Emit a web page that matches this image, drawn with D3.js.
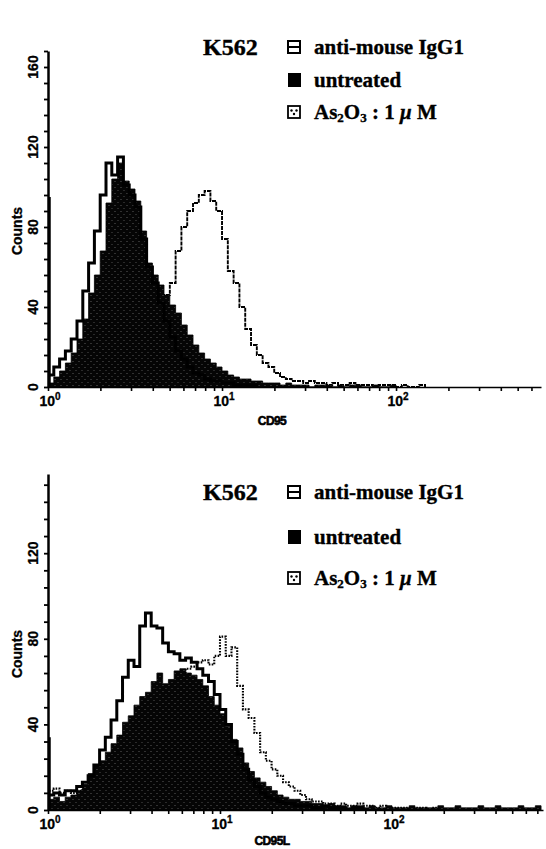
<!DOCTYPE html>
<html>
<head>
<meta charset="utf-8">
<script src="https://cdn.jsdelivr.net/npm/d3@7/dist/d3.min.js"></script>
<style>
body { margin: 0; background: #fff; }
svg { display: block; }
.legend text { font-family: "Liberation Serif", "Times New Roman", serif; font-weight: bold; white-space: pre; }
.tick-label, .axis-title { font-family: "Liberation Sans", Arial, sans-serif; font-weight: bold; }
</style>
</head>
<body>
<svg id="chart" width="546" height="849"></svg>
<script>
// histogram bins are 1/30 decade wide, first bin starts at 10^0
const binsPerDecade = 30

const seriesNames = ["anti-mouse IgG1", "untreated", "As2O3"]
const xTickDecades = [0, 1, 2]
const yTicksTop = [0, 40, 80, 120, 160]
const yTicksBottom = [0, 40, 80, 120]

// CD95 panel
const cd95IgG1 = [6,10,14,18,24,33,48,62,78,96,112,106,115,101,96,90,74,60,52,42,33,25,18,14,10,7,6,4,3,3,2,2,1,1,1,1]
const cd95Untreated = [2,5,8,12,17,24,34,47,56,68,92,104,112,103,99,93,78,62,56,51,46,41,37,31,26,21,17,14,12,10,8,6,5,4,4,3,3,2,2,2,1,2,1,1,1,0,1,1,1,0,1,0,1,1,0,0,1,0,0,1]
const cd95As2O3 = [0,0,0,0,0,1,1,1,2,2,3,4,5,7,9,13,18,25,32,42,46,52,68,80,88,92,96,98,93,88,74,58,52,40,29,21,16,12,10,7,5,4,3,3,2,3,2,2,1,2,1,1,2,1,1,1,0,1,1,1,0,1,0,0,1]
const cd95FirstChannel = [95]

// CD95L panel
const cd95lIgG1 = [7,8,7,9,9,11,13,16,21,28,34,42,51,62,70,67,86,92,86,85,78,74,73,70,71,69,66,63,60,54,47,40,32,26,19,14,11,8,6,5,4,3,3,2,2,2,1,1,2,1,1,1,0,1,1]
const cd95lUntreated = [5,6,4,6,7,9,12,17,21,23,27,31,35,41,44,49,53,55,60,64,59,61,65,66,64,63,61,58,53,49,45,39,33,29,22,18,15,13,11,9,7,6,5,5,4,4,3,3,
  2,3,2,2,1,2,2,1,2,1,1,2,1,1,1,2,1,1,1,1,2,1,1,2,1,1,1,2,1,1,2,1,1,1,2,1,1,2]
const cd95lAs2O3 = [9,10,8,9,8,9,11,12,14,16,19,23,27,30,34,38,42,45,49,52,55,58,61,64,66,67,69,70,68,72,81,72,76,58,47,43,36,27,23,19,16,13,11,9,7,5,4,4,3,3,2,3,2,2,3,2,2,1,2,1,1,1,1,0,1,1,0,1]
const cd95lFirstChannel = [34]

const svg = d3.select("#chart")

// stipple texture of the scanned filled histogram
const defs = svg.append("defs")
const pat = defs.append("pattern").attr("id", "stipple")
  .attr("width", 6).attr("height", 6).attr("patternUnits", "userSpaceOnUse")
pat.append("rect").attr("width", 6).attr("height", 6).attr("fill", "#050505")
pat.append("circle").attr("cx", 1).attr("cy", 1.5).attr("r", 0.55).attr("fill", "#6a6a6a")
pat.append("circle").attr("cx", 4).attr("cy", 4.5).attr("r", 0.55).attr("fill", "#5a5a5a")

const panels = [
  { name: "CD95", top: 51, bottom: 387, left: 48, right: 541, xMaxExp: 2.833, yMax: 168,
    yTicks: yTicksTop, igg: cd95IgG1, untreated: cd95Untreated, as2o3: cd95As2O3, first: cd95FirstChannel,
    legendRows: [47, 80, 112], titleY: 425, dash: "4,1", dashW: 1.9 },
  { name: "CD95L", top: 474, bottom: 810, left: 48, right: 543, xMaxExp: 2.878, yMax: 157,
    yTicks: yTicksBottom, igg: cd95lIgG1, untreated: cd95lUntreated, as2o3: cd95lAs2O3, first: cd95lFirstChannel,
    legendRows: [492, 537, 578], titleY: 845, dash: "1.6,1.3", dashW: 2.1 }
]

// turns bin counts into a step outline
const stepPoints = (counts, x, y) => {
  const pts = [[x(1), y(0)]]
  counts.forEach((c, i) => {
    const x0 = x(Math.pow(10, i / binsPerDecade))
    const x1 = x(Math.pow(10, (i + 1) / binsPerDecade))
    pts.push([x0, y(c)], [x1, y(c)])
  })
  pts.push([x(Math.pow(10, counts.length / binsPerDecade)), y(0)])
  return pts
}

panels.forEach((p, pi) => {
  const x = d3.scaleLog().domain([1, Math.pow(10, p.xMaxExp)]).range([p.left, p.right])
  const y = d3.scaleLinear().domain([0, p.yMax]).range([p.bottom, p.top])
  const g = svg.append("g")

  defs.append("clipPath").attr("id", "clip" + pi)
    .append("rect").attr("x", p.left).attr("y", p.top - 2)
    .attr("width", p.right - p.left).attr("height", p.bottom - p.top + 2)

  const plot = g.append("g").attr("clip-path", `url(#clip${pi})`)
  const line = d3.line()

  // As2O3 : white area, dotted outline
  plot.append("path").attr("d", line(stepPoints(p.as2o3, x, y)) + "Z")
    .attr("fill", "#fff").attr("stroke", "none")
  plot.append("path").attr("d", line(stepPoints(p.as2o3, x, y)))
    .attr("fill", "none").attr("stroke", "#000").attr("stroke-width", p.dashW)
    .attr("stroke-dasharray", p.dash)

  // untreated : filled black
  plot.append("path").attr("d", line(stepPoints(p.untreated, x, y)) + "Z")
    .attr("fill", "url(#stipple)").attr("stroke", "#000").attr("stroke-width", 0.8)

  // isotype control : thick outline
  plot.append("path").attr("d", line(stepPoints(p.igg, x, y)))
    .attr("fill", "none").attr("stroke", "#000").attr("stroke-width", 3)
    .attr("stroke-linejoin", "miter")

  // pile-up in the first channel
  plot.selectAll(".first").data(p.first).enter().append("line")
    .attr("x1", x(1) + 1.5).attr("x2", x(1) + 1.5)
    .attr("y1", y(0)).attr("y2", d => y(d))
    .attr("stroke", "#000").attr("stroke-width", 2.5)

  // y axis
  const yAxis = d3.axisLeft(y)
    .tickValues(d3.range(0, p.yMax + 0.1, 8))
    .tickSize(4).tickSizeOuter(0).tickFormat("")
  const ya = g.append("g").attr("transform", `translate(${p.left},0)`).call(yAxis)
  ya.select(".domain").attr("stroke-width", 2.5)
  ya.selectAll(".tick line").attr("stroke-width", 1.8)

  g.selectAll(".ylab").data(p.yTicks).enter().append("text")
    .attr("class", "tick-label")
    .attr("transform", d => `translate(38,${y(d)}) rotate(-90)`)
    .attr("text-anchor", "middle")
    .attr("font-size", 14)
    .attr("stroke", "#000").attr("stroke-width", 0.3)
    .text(d => d)

  g.append("text").attr("class", "axis-title")
    .attr("transform", `translate(22,${(p.top + p.bottom) / 2 + 12}) rotate(-90)`)
    .attr("text-anchor", "middle").attr("font-size", 14)
    .attr("stroke", "#000").attr("stroke-width", 0.3)
    .text("Counts")

  // x axis with log minor ticks
  const minor = []
  for (let e = 0; e <= 2; e++) for (let m = 1; m < 10; m++) {
    const v = m * Math.pow(10, e)
    if (v <= x.domain()[1]) minor.push(v)
  }
  const xAxis = d3.axisBottom(x).tickValues(minor).tickSize(4).tickSizeOuter(0).tickFormat("")
  const xa = g.append("g").attr("transform", `translate(0,${p.bottom})`).call(xAxis)
  xa.select(".domain").attr("stroke-width", 1.6)
  xa.selectAll(".tick line").attr("stroke-width", 1.6)

  const xl = g.selectAll(".xlab").data(xTickDecades).enter().append("text")
    .attr("class", "tick-label")
    .attr("x", d => x(Math.pow(10, d)) + 2)
    .attr("y", p.bottom + 19)
    .attr("text-anchor", "middle")
    .attr("font-size", 14)
    .attr("stroke", "#000").attr("stroke-width", 0.3)
  xl.append("tspan").text("10")
  xl.append("tspan").attr("font-size", 10).attr("dy", -6).text(d => d)

  g.append("text").attr("class", "axis-title")
    .attr("x", 272).attr("y", p.titleY)
    .attr("text-anchor", "middle").attr("font-size", 12)
    .attr("stroke", "#000").attr("stroke-width", 0.6)
    .attr("letter-spacing", -0.6)
    .text(p.name)

  // legend
  const lg = g.append("g").attr("class", "legend")
  const r = p.legendRows
  lg.append("text").attr("x", 203).attr("y", r[0] + 8).attr("font-size", 24)
    .attr("stroke", "#000").attr("stroke-width", 0.4).text("K562")

  const bx = 288, bs = 12
  // anti-mouse IgG1 icon
  lg.append("rect").attr("x", bx).attr("y", r[0] - bs / 2).attr("width", bs).attr("height", bs)
    .attr("fill", "#fff").attr("stroke", "#000").attr("stroke-width", 2)
  lg.append("line").attr("x1", bx).attr("x2", bx + bs).attr("y1", r[0]).attr("y2", r[0])
    .attr("stroke", "#000").attr("stroke-width", 2)
  // untreated icon
  lg.append("rect").attr("x", bx).attr("y", r[1] - bs / 2 - 1).attr("width", bs + 1).attr("height", bs + 2)
    .attr("fill", "#000")
  // As2O3 icon
  lg.append("rect").attr("x", bx).attr("y", r[2] - bs / 2).attr("width", bs).attr("height", bs)
    .attr("fill", "#fff").attr("stroke", "#000").attr("stroke-width", 1.8)
  ;[[bx + 3.5, r[2] - 1.5], [bx + 8.5, r[2] - 1.5], [bx + 6, r[2] + 2]].forEach(([cx, cy]) =>
    lg.append("circle").attr("cx", cx).attr("cy", cy).attr("r", 1.2).attr("fill", "#000"))

  const tx = 314
  const rowText = (row) => lg.append("text").attr("x", tx).attr("y", row + 7).attr("font-size", 21)
    .attr("stroke", "#000").attr("stroke-width", 0.35)
  rowText(r[0]).text(seriesNames[0])
  rowText(r[1]).text(seriesNames[1])
  const t3 = rowText(r[2])
  t3.append("tspan").text("As")
  t3.append("tspan").attr("font-size", 13).attr("dy", 3).text("2")
  t3.append("tspan").attr("dy", -3).text("O")
  t3.append("tspan").attr("font-size", 13).attr("dy", 3).text("3")
  t3.append("tspan").attr("dy", -3).text(" : 1 ")
  t3.append("tspan").attr("font-style", "italic").text("\u03bc")
  t3.append("tspan").text(" M")
})
</script>
</body>
</html>
